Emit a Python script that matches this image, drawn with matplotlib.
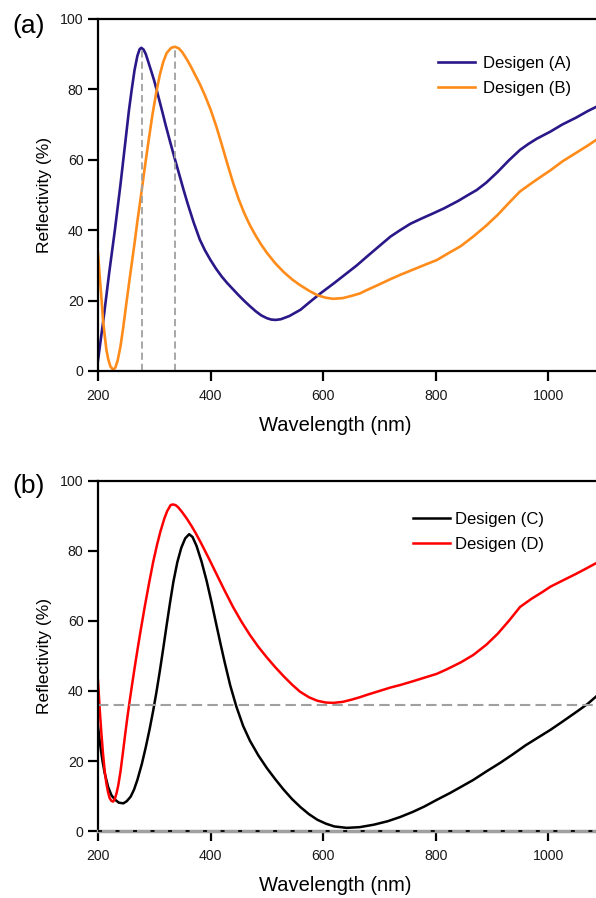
import matplotlib
matplotlib.use("Agg")
import matplotlib.pyplot as plt

plt.rcParams['font.family'] = ['Liberation Sans', 'DejaVu Sans']

# panel (a)
wl_a = [200, 205, 210, 215, 220, 225, 230, 235, 240, 245, 250, 255, 260, 265, 270, 274, 277,
        281, 285, 290, 295, 300, 304, 310, 315, 320, 328, 337, 345, 352, 360, 370, 381, 390,
        400, 410, 420, 430, 440, 450, 460, 470, 480, 490, 500, 508, 516, 525, 540, 560, 575,
        595, 620, 640, 660, 678, 700, 720, 737, 755, 775, 796, 815, 840, 860, 873, 890, 910,
        930, 950, 965, 980, 1004, 1025, 1050, 1070, 1085]
ref_a = [3, 9, 15, 21.5, 28, 34, 40, 46.5, 53, 60, 67, 74, 80, 85.5, 89.5, 91.4, 91.8,
         91.3, 90, 87.5, 85, 82.4, 80, 76.3, 73.2, 70, 65.2, 60, 55.5, 51.5, 47.2, 42.2, 37.3, 34.3,
         31.5, 29, 26.8, 24.9, 23.2, 21.5, 19.9, 18.4, 17, 15.8, 15, 14.6, 14.5, 14.7, 15.6, 17.4, 19.4,
         22, 25, 27.5, 30, 32.5, 35.5, 38.2, 40, 41.8, 43.3, 44.8, 46.2, 48.3, 50.2, 51.4, 53.5, 56.5,
         59.8, 62.8, 64.5, 66, 68, 70, 72, 73.8, 75]

wl_b = [200, 203, 206, 209, 212, 215, 218, 222, 227, 231, 235, 240, 245, 250, 255, 260, 265,
        270, 277, 283, 290, 297, 304, 310, 316, 322, 330, 337, 344, 350, 358, 365, 373, 381,
        390, 400, 410, 420, 430, 440, 450, 460, 470, 480, 490, 500, 515, 530, 545, 559, 575,
        590, 605, 618, 635, 650, 665, 678, 700, 720, 737, 760, 780, 802, 820, 845, 867, 890,
        910, 930, 950, 970, 990, 1004, 1025, 1050, 1070, 1085]
ref_b = [33.5, 27, 21, 14.5, 10, 6, 3.5, 1.3, 0.3, 1, 3, 7, 12.5, 18.7, 24.7, 30.5, 36.3,
         42.5, 50.5, 57.6, 65.5, 73, 79.5, 84.2, 87.8, 90.3, 91.8, 92.1, 91.6, 90.5, 88.5, 86.5, 84, 81.5,
         78.3, 74.3, 69.6, 64.3, 58.8, 53.5, 48.8, 44.8, 41.4, 38.5, 35.9, 33.6, 30.6, 28.1, 26, 24.4, 22.8,
         21.5, 20.8, 20.5, 20.7, 21.3, 22, 23, 24.6, 26.1, 27.3, 28.8, 30.1, 31.5, 33.2, 35.5, 38.2, 41.3,
         44.3, 47.7, 51, 53.3, 55.5, 57, 59.5, 62, 64, 65.6]

peaks_a = [277.7, 336.9]
peak_vals_a = [91.8, 92.1]

# panel (b)
wl_c = [200, 204, 208, 212, 218, 224, 230, 237, 245, 251, 258, 264, 270, 278, 285, 292, 298,
        304, 310, 316, 322, 328, 334, 341, 348, 355, 362, 368, 375, 384, 393, 402, 410, 418,
        425, 435, 446, 458, 470, 485, 500, 515, 530, 545, 560, 575, 590, 605, 620, 642, 665,
        690, 715, 737, 760, 780, 802, 825, 845, 867, 890, 915, 938, 960, 985, 1004, 1025,
        1050, 1070, 1085]
ref_c = [30, 24.5, 20, 16.5, 12.6, 10.2, 9, 8.1, 7.9, 8.5, 9.8, 11.8, 14.6, 19.2, 24, 29.3, 34.3,
         39.8, 45.8, 52.2, 58.8, 65.2, 71.2, 76.8, 80.9, 83.6, 84.8, 84, 81.5, 77, 71.5, 65.2, 59.2, 53.3,
         48.3, 41.6, 35.5, 30, 25.8, 21.6, 18, 14.8, 11.8, 9.1, 6.8, 4.8, 3.2, 2.1, 1.3, 0.9, 1.1,
         1.8, 2.8, 4, 5.5, 7, 8.9, 10.8, 12.6, 14.6, 17, 19.5, 22, 24.5, 27, 28.9, 31.2,
         34, 36.3, 38.4]

wl_d = [200, 203, 206, 209, 212, 215, 218, 221, 224, 227, 230, 233, 236, 240, 244, 248, 252,
        256, 260, 265, 270, 275, 283, 291, 298, 305, 311, 318, 323, 329, 333, 338, 343, 350, 358,
        366, 374, 382, 390, 400, 410, 425, 440, 455, 470, 485, 500, 515, 530, 545, 559, 575,
        590, 605, 618, 635, 650, 665, 678, 700, 720, 737, 760, 780, 802, 820, 845, 867, 890,
        910, 930, 950, 970, 990, 1004, 1025, 1050, 1070, 1085]
ref_d = [43, 35, 28, 22, 17, 13.5, 11, 9.3, 8.6, 8.4, 9.2, 10.8, 13, 17, 22, 27.2, 32.2,
         36.8, 41.2, 46.5, 51.6, 56.5, 64, 71, 76.8, 81.8, 85.6, 89.3, 91.4, 93.1, 93.3, 93.1, 92.4, 91, 89.2,
         87.2, 85, 82.6, 80.1, 76.9, 73.6, 68.7, 64, 59.8, 56, 52.6, 49.6, 46.8, 44.2, 41.8, 39.8, 38.2,
         37.2, 36.7, 36.6, 36.9, 37.5, 38.2, 38.9, 40, 41, 41.7, 42.8, 43.8, 44.9, 46.2, 48.2, 50.3, 53.2,
         56.3, 60, 64, 66.3, 68.3, 69.8, 71.5, 73.5, 75.2, 76.5]

ref_level_b = 36

xticks = [200, 400, 600, 800, 1000]
yticks = [0, 20, 40, 60, 80, 100]

fig = plt.figure(figsize=(5.96, 8.98), dpi=100)
ax1 = fig.add_axes([0.1644, 0.5869, 0.8356, 0.3920])
ax2 = fig.add_axes([0.1644, 0.0746, 0.8356, 0.3898])


def style(ax):
    ax.set_xlim(200, 1085)
    ax.set_ylim(0, 100)
    ax.set_xticks(xticks)
    ax.set_yticks(yticks)
    ax.spines['right'].set_visible(False)
    for s in ['left', 'top', 'bottom']:
        ax.spines[s].set_linewidth(1.6)
    ax.tick_params(direction='out', length=7, width=1.6, labelsize=10.2,
                   labelcolor='#1a1a1a')
    ax.tick_params(axis='y', pad=3.5)
    ax.tick_params(axis='x', pad=6)
    ax.set_xlabel('Wavelength (nm)', fontsize=14.5, labelpad=9)
    ax.xaxis.label.set_x(0.476)
    ax.set_ylabel('Reflectivity (%)', fontsize=12.5, labelpad=6)


ax1.plot(wl_a, ref_a, color='#2a1889', lw=1.9, label='Desigen (A)')
ax1.plot(wl_b, ref_b, color='#ff8c1a', lw=1.9, label='Desigen (B)')
ax1.vlines(peaks_a, 0, peak_vals_a, colors='#a0a0a0', linestyles=(0, (4, 2.2)), lw=1.3)
style(ax1)
ax1.legend(loc='upper left', bbox_to_anchor=(0.683, 0.894), frameon=False, fontsize=12,
           borderpad=0, borderaxespad=0, handlelength=2.2, handletextpad=0.48,
           labelspacing=0.6)

ax2.plot(wl_c, ref_c, color='black', lw=1.8, label='Desigen (C)')
ax2.plot(wl_d, ref_d, color='#ff0000', lw=1.8, label='Desigen (D)')
ax2.axhline(ref_level_b, color='#a0a0a0', ls=(0, (5, 2.5)), lw=1.5)
style(ax2)
ax2.spines['bottom'].set_color('#a0a0a0')
ax2.spines['bottom'].set_linewidth(2.5)
ax2.axhline(0, color='black', ls=(0, (2.2, 7.5)), lw=1.3, clip_on=False, zorder=4)
ax2.tick_params(axis='x', color='black')
ax2.legend(loc='upper left', bbox_to_anchor=(0.6325, 0.911), frameon=False, fontsize=12,
           borderpad=0, borderaxespad=0, handlelength=2.2, handletextpad=0.3,
           labelspacing=0.6)

fig.text(0.02, 0.971, '(a)', fontsize=19, va='center', ha='left')
fig.text(0.02, 0.459, '(b)', fontsize=19, va='center', ha='left')

fig.savefig('out.png', dpi=100)
